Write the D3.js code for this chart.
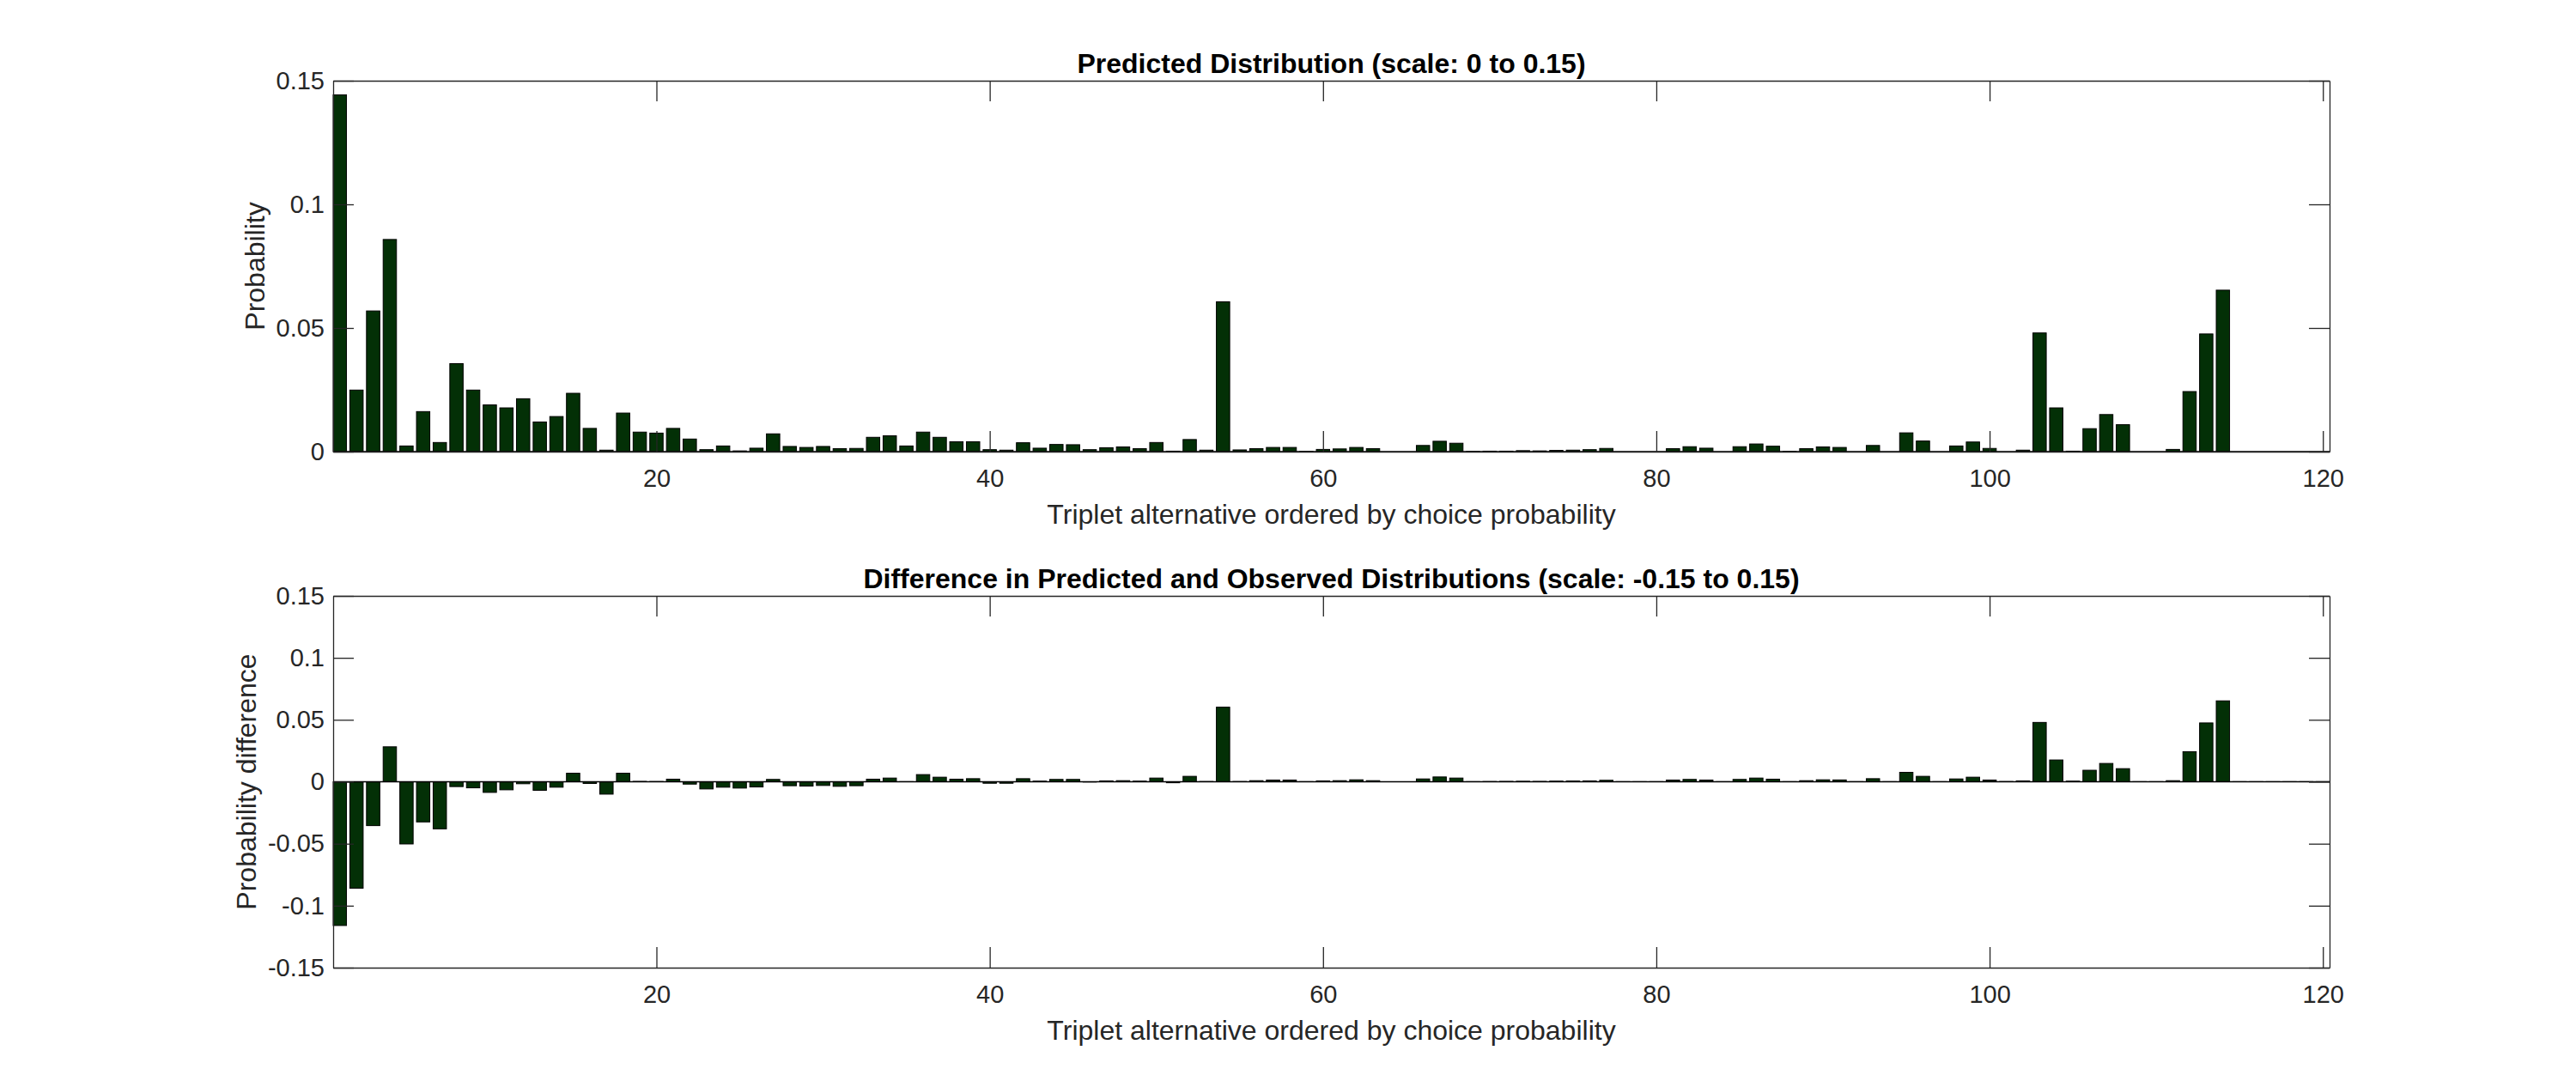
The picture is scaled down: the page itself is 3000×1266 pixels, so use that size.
<!DOCTYPE html>
<html>
<head>
<meta charset="utf-8">
<script src="https://cdn.jsdelivr.net/npm/d3@7"></script>
<style>
  body { margin: 0; background: #fff; }
  svg { display: block; }
  .axis text { font-family: "Liberation Sans", Arial, sans-serif; font-size: 29px; fill: #262626; }
  .axis path, .axis line { stroke: #262626; stroke-width: 1.3px; }
  .label { font-family: "Liberation Sans", Arial, sans-serif; font-size: 32px; fill: #262626; }
  .title { font-family: "Liberation Sans", Arial, sans-serif; font-size: 32px; font-weight: bold; fill: #000; }
</style>
</head>
<body>
<script>
// values, alternative 1..120
var predicted = [
  0.1443, 0.0249, 0.0569, 0.0858, 0.0023, 0.0162, 0.0037, 0.0356, 0.0249, 0.0189,
  0.0177, 0.0214, 0.0120, 0.0142, 0.0236, 0.0094, 0.0006, 0.0156, 0.0079, 0.0075,
  0.0094, 0.0051, 0.0008, 0.0023, 0.0003, 0.0014, 0.0072, 0.0021, 0.0017, 0.0021,
  0.0012, 0.0013, 0.0058, 0.0064, 0.0023, 0.0079, 0.0058, 0.0040, 0.0040, 0.0008,
  0.0006, 0.0036, 0.0014, 0.0029, 0.0028, 0.0008, 0.0016, 0.0019, 0.0012, 0.0037,
  0.0002, 0.0049, 0.0006, 0.0606, 0.0007, 0.0012, 0.0017, 0.0017, 0.0001, 0.0009,
  0.0011, 0.0017, 0.0012, 0.0000, 0.0000, 0.0025, 0.0042, 0.0034, 0.0001, 0.0002,
  0.0002, 0.0004, 0.0003, 0.0005, 0.0006, 0.0008, 0.0013, 0.0000, 0.0000, 0.0000,
  0.0012, 0.0020, 0.0014, 0.0000, 0.0020, 0.0031, 0.0022, 0.0001, 0.0012, 0.0019,
  0.0017, 0.0000, 0.0025, 0.0000, 0.0076, 0.0043, 0.0000, 0.0023, 0.0039, 0.0013,
  0.0000, 0.0006, 0.0480, 0.0177, 0.0002, 0.0093, 0.0150, 0.0109, 0.0000, 0.0000,
  0.0009, 0.0243, 0.0476, 0.0653, 0.0000, 0.0000, 0.0000, 0.0000, 0.0000, 0.0000
];

var difference = [
  -0.1160, -0.0859, -0.0354, 0.0282, -0.0502, -0.0324, -0.0380, -0.0039, -0.0049, -0.0086,
  -0.0065, -0.0016, -0.0069, -0.0044, 0.0069, -0.0014, -0.0100, 0.0069, 0.0003, 0.0002,
  0.0021, -0.0019, -0.0058, -0.0044, -0.0051, -0.0042, 0.0019, -0.0032, -0.0035, -0.0030,
  -0.0037, -0.0032, 0.0021, 0.0030, 0.0001, 0.0058, 0.0037, 0.0021, 0.0025, -0.0012,
  -0.0012, 0.0025, 0.0005, 0.0019, 0.0019, -0.0002, 0.0007, 0.0009, 0.0005, 0.0030,
  -0.0008, 0.0044, 0.0002, 0.0602, 0.0002, 0.0009, 0.0014, 0.0014, 0.0001, 0.0007,
  0.0009, 0.0016, 0.0009, 0.0000, 0.0000, 0.0023, 0.0039, 0.0030, 0.0001, 0.0002,
  0.0003, 0.0004, 0.0003, 0.0005, 0.0006, 0.0007, 0.0012, 0.0001, 0.0001, 0.0001,
  0.0014, 0.0019, 0.0014, 0.0001, 0.0019, 0.0030, 0.0021, 0.0001, 0.0009, 0.0016,
  0.0015, 0.0001, 0.0025, 0.0001, 0.0076, 0.0044, 0.0001, 0.0023, 0.0037, 0.0014,
  0.0002, 0.0007, 0.0479, 0.0176, 0.0005, 0.0093, 0.0148, 0.0106, 0.0001, 0.0001,
  0.0009, 0.0243, 0.0475, 0.0653, 0.0001, 0.0001, 0.0001, 0.0001, 0.0001, 0.0001
];

var xTicks = [20, 40, 60, 80, 100, 120];
var topYTicks = [0, 0.05, 0.1, 0.15];
var bottomYTicks = [-0.15, -0.1, -0.05, 0, 0.05, 0.1, 0.15];

var titles = ["Predicted Distribution (scale: 0 to 0.15)",
              "Difference in Predicted and Observed Distributions (scale: -0.15 to 0.15)"];
var yLabels = ["Probability", "Probability difference"];
var xLabel = "Triplet alternative ordered by choice probability";

var W = 3000, H = 1266;
var left = 388, right = 2713;
var barColor = "#033006";

var svg = d3.select("body").append("svg")
  .attr("width", W)
  .attr("height", H);

function fmt(d) {
  if (d === 0) return "0";
  return String(+d.toFixed(2));
}

function drawPanel(values, top, bottom, yDomain, yTicks, title, yLabel, yLabelX) {
  var x = d3.scaleLinear().domain([0.6, 120.4]).range([left, right]);
  var y = d3.scaleLinear().domain(yDomain).range([bottom, top]);
  var g = svg.append("g");

  // bars
  g.selectAll("rect.bar")
    .data(values)
    .enter()
    .append("rect")
    .attr("class", "bar")
    .attr("x", function(d, i) { return x(i + 1 - 0.4); })
    .attr("width", function(d, i) { return x(i + 1 + 0.4) - x(i + 1 - 0.4); })
    .attr("y", function(d) { return Math.min(y(d), y(0)); })
    .attr("height", function(d) { return Math.abs(y(d) - y(0)); })
    .attr("fill", barColor)
    .attr("stroke", "#000")
    .attr("stroke-width", 1);

  // baseline
  g.append("line")
    .attr("x1", left).attr("x2", right)
    .attr("y1", y(0)).attr("y2", y(0))
    .attr("stroke", "#000")
    .attr("stroke-width", 1.3);

  // axes, ticks inside on all four sides
  g.append("g")
    .attr("class", "axis")
    .attr("transform", "translate(0," + bottom + ")")
    .call(d3.axisBottom(x).tickValues(xTicks).tickSizeInner(-24).tickSizeOuter(0).tickPadding(20));

  g.append("g")
    .attr("class", "axis")
    .attr("transform", "translate(0," + top + ")")
    .call(d3.axisTop(x).tickValues(xTicks).tickSizeInner(-24).tickSizeOuter(0).tickFormat(""));

  g.append("g")
    .attr("class", "axis")
    .attr("transform", "translate(" + left + ",0)")
    .call(d3.axisLeft(y).tickValues(yTicks).tickSizeInner(-24).tickSizeOuter(0).tickPadding(10).tickFormat(fmt));

  g.append("g")
    .attr("class", "axis")
    .attr("transform", "translate(" + right + ",0)")
    .call(d3.axisRight(y).tickValues(yTicks).tickSizeInner(-24).tickSizeOuter(0).tickFormat(""));

  // title
  g.append("text")
    .attr("class", "title")
    .attr("x", (left + right) / 2)
    .attr("y", top - 9)
    .attr("text-anchor", "middle")
    .text(title);

  // x label
  g.append("text")
    .attr("class", "label")
    .attr("x", (left + right) / 2)
    .attr("y", bottom + 84)
    .attr("text-anchor", "middle")
    .text(xLabel);

  // y label
  g.append("text")
    .attr("class", "label")
    .attr("transform", "translate(" + yLabelX + "," + ((top + bottom) / 2) + ") rotate(-90)")
    .attr("text-anchor", "middle")
    .text(yLabel);
}

drawPanel(predicted, 94, 526, [0, 0.15], topYTicks, titles[0], yLabels[0], 308);
drawPanel(difference, 694, 1127, [-0.15, 0.15], bottomYTicks, titles[1], yLabels[1], 298);
</script>
</body>
</html>
